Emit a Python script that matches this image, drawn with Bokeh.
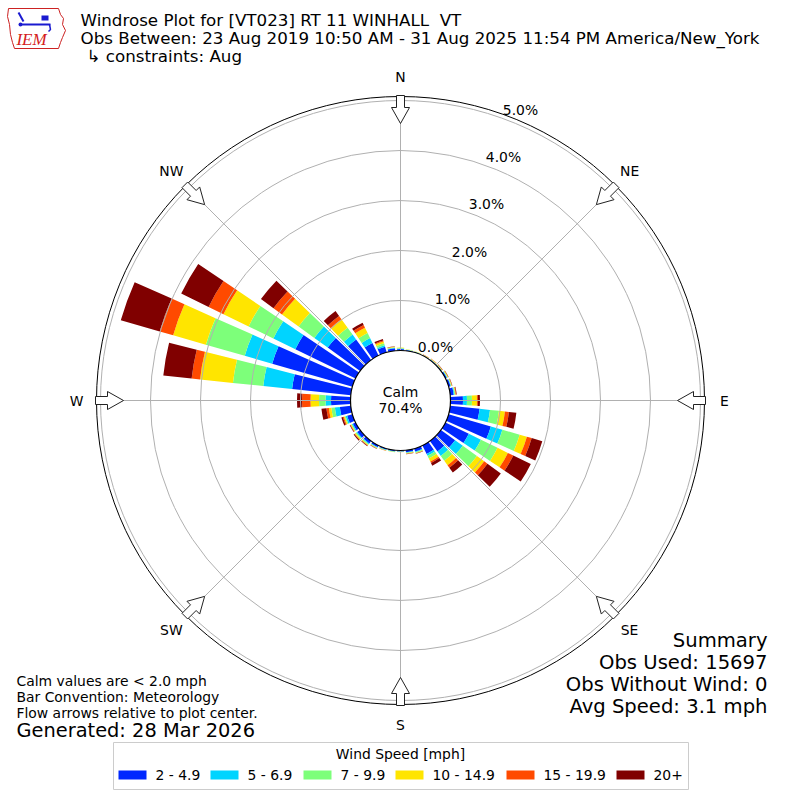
import math
from bokeh.plotting import figure
from bokeh.models import Range1d
from bokeh.embed import file_html
from bokeh.resources import INLINE
from bokeh.core.properties import value

# ---------------- data ----------------
directions = list(range(0, 360, 10))
speed_bins = ["2 - 4.9", "5 - 6.9", "7 - 9.9", "10 - 14.9", "15 - 19.9", "20+"]
bin_colors = ["#0028ff", "#00d4ff", "#7dff7a", "#ffe500", "#ff4a00", "#800000"]

pct_2_5 = [0.03, 0.015, 0.01, 0.01, 0.015, 0.015, 0.03, 0.04, 0.07, 0.25, 0.59, 0.88,
           0.52, 0.35, 0.26, 0.19, 0.06, 0.04, 0.02, 0.02, 0.025, 0.04, 0.06, 0.07,
           0.06, 0.11, 0.22, 0.39, 1.18, 1.67, 1.34, 0.80, 0.51, 0.28, 0.12, 0.05]
pct_5_7 = [0.01, 0.005, 0.005, 0.005, 0.005, 0.005, 0.01, 0.01, 0.015, 0.08, 0.21, 0.24,
           0.27, 0.19, 0.11, 0.04, 0.015, 0.01, 0.005, 0.01, 0.01, 0.01, 0.02, 0.02,
           0.02, 0.03, 0.10, 0.11, 0.58, 0.57, 0.49, 0.33, 0.12, 0.11, 0.03, 0.01]
pct_7_10 = [0.01, 0.005, 0.005, 0.005, 0.005, 0.005, 0.01, 0.01, 0.015, 0.10, 0.18, 0.36,
            0.37, 0.35, 0.12, 0.06, 0.015, 0.01, 0.005, 0.005, 0.005, 0.01, 0.015, 0.02,
            0.015, 0.02, 0.07, 0.13, 0.61, 0.81, 0.55, 0.39, 0.17, 0.11, 0.04, 0.01]
pct_10_15 = [0.01, 0.005, 0.005, 0.005, 0.01, 0.01, 0.01, 0.01, 0.01, 0.10, 0.12, 0.15,
             0.23, 0.18, 0.11, 0.07, 0.01, 0.01, 0.005, 0.005, 0.005, 0.01, 0.015, 0.02,
             0.015, 0.02, 0.05, 0.17, 0.66, 0.68, 0.56, 0.41, 0.21, 0.12, 0.04, 0.01]
pct_15_20 = [0.0, 0.0, 0.0, 0.005, 0.005, 0.005, 0.005, 0.005, 0.01, 0.02, 0.08, 0.10,
             0.12, 0.08, 0.06, 0.03, 0.005, 0.005, 0.0, 0.0, 0.005, 0.005, 0.01, 0.01,
             0.01, 0.02, 0.05, 0.17, 0.17, 0.28, 0.33, 0.21, 0.08, 0.06, 0.02, 0.005]
pct_20p = [0.0, 0.0, 0.0, 0.0, 0.0, 0.005, 0.005, 0.005, 0.01, 0.04, 0.15, 0.22,
           0.39, 0.33, 0.12, 0.06, 0.005, 0.005, 0.0, 0.0, 0.0, 0.005, 0.01, 0.02,
           0.01, 0.03, 0.10, 0.10, 0.57, 0.81, 0.61, 0.31, 0.12, 0.05, 0.03, 0.005]
series = [pct_2_5, pct_5_7, pct_7_10, pct_10_15, pct_15_20, pct_20p]

calm_pct = 70.4
ring_values = [0.0, 1.0, 2.0, 3.0, 4.0, 5.0]
compass_labels = ["N", "NE", "E", "SE", "S", "SW", "W", "NW"]
compass_bearings = [0, 45, 90, 135, 180, 225, 270, 315]

title_lines = ["Windrose Plot for [VT023] RT 11 WINHALL \u00a0VT",
               "Obs Between: 23 Aug 2019 10:50 AM - 31 Aug 2025 11:54 PM America/New_York",
               "\u21b3 constraints: Aug"]
notes = ["Calm values are < 2.0 mph", "Bar Convention: Meteorology",
         "Flow arrows relative to plot center."]
generated = "Generated: 28 Mar 2026"
summary = ["Summary", "Obs Used: 15697", "Obs Without Wind: 0", "Avg Speed: 3.1 mph"]
legend_title = "Wind Speed [mph]"

# ---------------- layout helpers ----------------
PX = 50.0  # pixels per percent


def X(px):
    return (px - 400.0) / PX


def Y(py):
    return (400.0 - py) / PX


CALM_R = 1.0
OUTER_R = 6.08
FONT = value("DejaVu Sans")
SZ = 13.9

p = figure(width=792, height=792, output_backend="svg", toolbar_location=None,
           x_axis_type=None, y_axis_type=None, min_border=0,
           x_range=Range1d(X(0), X(792)), y_range=Range1d(Y(792), Y(0)))
p.outline_line_color = None
p.grid.visible = False
p.background_fill_color = "white"
p.border_fill_color = "white"


def add_text(px, py, s, size, align="left", color="black", font=FONT, style="normal"):
    p.text(x=[X(px)], y=[Y(py)], text=[s], text_font=font, text_font_size=f"{size}px",
           text_align=align, text_baseline="middle", text_color=color,
           text_font_style=style)


# ---------------- bars ----------------
half = 4.0
for k, vals in enumerate(series):
    inner, outer, sa, ea = [], [], [], []
    for i, d in enumerate(directions):
        prev = sum(series[j][i] for j in range(k))
        if vals[i] <= 0:
            continue
        inner.append(CALM_R + prev)
        outer.append(CALM_R + prev + vals[i])
        sa.append(math.radians(90 - d - half))
        ea.append(math.radians(90 - d + half))
    p.annular_wedge(x=0, y=0, inner_radius=inner, outer_radius=outer,
                    start_angle=sa, end_angle=ea, fill_color=bin_colors[k],
                    line_color=None)

# ---------------- grid ----------------
grid_col = "#b0b0b0"
p.circle(x=[0] * 5, y=[0] * 5, radius=[CALM_R + v for v in ring_values[1:]],
         fill_color=None, line_color=grid_col, line_width=1)
for b in compass_bearings:
    a = math.radians(90 - b)
    p.segment(x0=[CALM_R * math.cos(a)], y0=[CALM_R * math.sin(a)],
              x1=[OUTER_R * math.cos(a)], y1=[OUTER_R * math.sin(a)],
              line_color=grid_col, line_width=1)
p.circle(x=[0], y=[0], radius=[OUTER_R], fill_color=None, line_color="black", line_width=1)

# calm circle
p.circle(x=[0], y=[0], radius=[CALM_R], fill_color="white", line_color="black", line_width=1.2)
add_text(400, 391, "Calm", SZ, align="center")
add_text(400, 407, f"{calm_pct:.1f}%", SZ, align="center")

# ring labels
for i, v in enumerate(ring_values):
    add_text(435 + 17 * i, 346 - 47.4 * i, f"{v:.1f}%", SZ, align="center")

# compass labels + arrows
xs, ys = [], []
for lab, b in zip(compass_labels, compass_bearings):
    a = math.radians(90 - b)
    ux, uy = math.cos(a), math.sin(a)
    vx, vy = -uy, ux
    r_lab = 6.48
    add_text(400 + PX * r_lab * ux, 400 - PX * r_lab * uy, lab, SZ, align="center")
    rt, rh, re = 5.54, 5.86, 6.10
    hw, sw = 0.18, 0.08
    pts = [(rt, 0), (rh, hw), (rh, sw), (re, sw), (re, -sw), (rh, -sw), (rh, -hw)]
    xs.append([r * ux + w * vx for r, w in pts])
    ys.append([r * uy + w * vy for r, w in pts])
p.patches(xs=xs, ys=ys, fill_color="white", line_color="#222222", line_width=1)

# ---------------- titles ----------------
add_text(80, 19, title_lines[0], 16.7)
add_text(80, 37, title_lines[1], 16.7)
add_text(86, 55, title_lines[2], 16.7)

# logo (approximate IEM logo)
iowa = [(8, 8), (58, 8), (60, 14), (63, 18), (62, 24), (65, 30), (62, 37), (60, 42),
        (58, 48), (14, 48), (12, 42), (10, 34), (9, 24), (7, 16)]
p.patch(x=[X(a) for a, _ in iowa], y=[Y(b) for _, b in iowa], fill_color=None,
        line_color="#cc2222", line_width=1)
p.line(x=[X(20), X(50)], y=[Y(24), Y(24)], line_color="#1a1ad0", line_width=2)
p.line(x=[X(18), X(23)], y=[Y(12), Y(21)], line_color="#1a1ad0", line_width=2)
p.quad(left=[X(41)], right=[X(48)], top=[Y(15)], bottom=[Y(20)], fill_color="#1a1ad0",
       line_color=None)
p.line(x=[X(49), X(50), X(48)], y=[Y(24), Y(29), Y(31)], line_color="#1a1ad0", line_width=1.5)
p.circle(x=[X(20)], y=[Y(24)], radius=[0.04], fill_color="#1a1ad0", line_color=None)
add_text(31, 39, "IEM", 17, align="center", color="#d42020",
         font=value("Liberation Serif"), style="italic")

# ---------------- notes / summary ----------------
for i, s in enumerate(notes):
    add_text(16, 680 + 16 * i, s, 13.9)
add_text(16, 730, generated, 19.4)
for i, s in enumerate(summary):
    add_text(767, 640 + 22 * i, s, 19.6, align="right")

# ---------------- legend ----------------
p.quad(left=[X(113)], right=[X(688)], top=[Y(742)], bottom=[Y(789)],
       fill_color="white", line_color="#cccccc", line_width=1)
add_text(400, 753, legend_title, SZ, align="center")
legend_x = [118, 210, 303, 395, 506, 616]
for lx, lab, col in zip(legend_x, speed_bins, bin_colors):
    p.quad(left=[X(lx)], right=[X(lx + 28)], top=[Y(770)], bottom=[Y(779)],
           fill_color=col, line_color=None)
    add_text(lx + 37, 774.5, lab, SZ)

open("out.html", "w").write(file_html(p, INLINE))
